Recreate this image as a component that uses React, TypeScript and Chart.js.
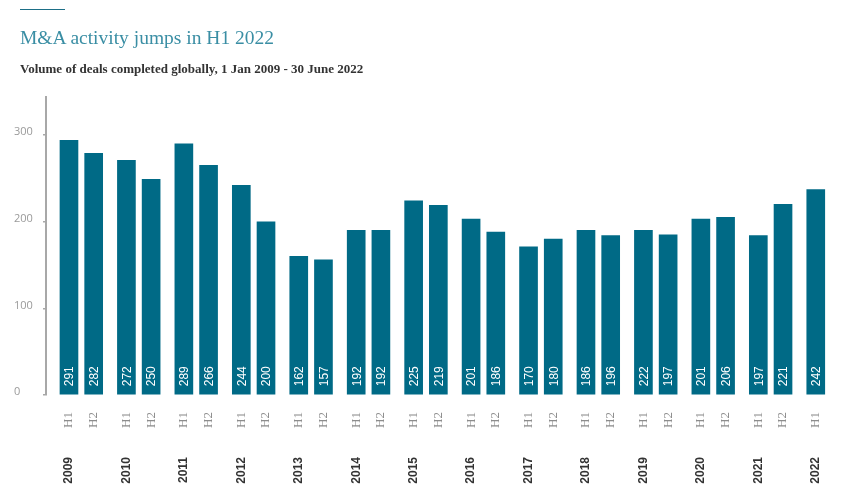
import { useEffect, useRef } from 'react';
import { Chart, registerables } from 'chart.js';

Chart.register(...registerables);

// ---- data ----
const years = ['2009', '2010', '2011', '2012', '2013', '2014', '2015', '2016', '2017', '2018', '2019', '2020', '2021', '2022'];
const periodYears = [
  '2009', '2009', '2010', '2010', '2011', '2011', '2012', '2012', '2013', '2013',
  '2014', '2014', '2015', '2015', '2016', '2016', '2017', '2017', '2018', '2018',
  '2019', '2019', '2020', '2020', '2021', '2021', '2022',
];
const periodHalves = [
  'H1', 'H2', 'H1', 'H2', 'H1', 'H2', 'H1', 'H2', 'H1', 'H2',
  'H1', 'H2', 'H1', 'H2', 'H1', 'H2', 'H1', 'H2', 'H1', 'H2',
  'H1', 'H2', 'H1', 'H2', 'H1', 'H2', 'H1',
];
// bar heights as drawn
const dealVolumes = [
  294, 279, 271, 249, 290, 265, 242, 200, 160, 156,
  190, 190, 224, 219, 203, 188, 171, 180, 190, 184,
  190, 185, 203, 205, 184, 220, 237,
];
// numbers printed inside the bars
const dealLabels = [
  '291', '282', '272', '250', '289', '266', '244', '200', '162', '157',
  '192', '192', '225', '219', '201', '186', '170', '180', '186', '196',
  '222', '197', '201', '206', '197', '221', '242',
];
const yTicks = [0, 100, 200, 300];
const Y_MAX = 344;
const H2_OFFSET = 0.43;
const X_MIN = -0.4;
const X_MAX = 13.3;

const BAR_COLOR = '#006a86';

const barX = periodYears.map((y, i) => years.indexOf(y) + (periodHalves[i] === 'H2' ? H2_OFFSET : 0));

const valueLabelPlugin = {
  id: 'valueLabels',
  afterDatasetsDraw(chart: any) {
    const ctx = chart.ctx;
    const meta = chart.getDatasetMeta(0);
    ctx.save();
    ctx.fillStyle = '#ffffff';
    ctx.font = '12px "Liberation Sans", Arial, sans-serif';
    meta.data.forEach((bar: any, i: number) => {
      const { x, base } = bar.getProps(['x', 'base'], true);
      ctx.save();
      ctx.translate(x, base - 8);
      ctx.rotate(-Math.PI / 2);
      ctx.textAlign = 'left';
      ctx.textBaseline = 'middle';
      ctx.fillText(dealLabels[i], 0, 1);
      ctx.restore();
    });
    ctx.restore();
  },
};

export default function App() {
  const canvasRef = useRef<HTMLCanvasElement | null>(null);

  useEffect(() => {
    if (!canvasRef.current) return;
    const chart = new Chart(canvasRef.current, {
      type: 'bar',
      data: {
        datasets: [
          {
            label: 'Deals',
            data: dealVolumes.map((v, i) => ({ x: barX[i], y: v })),
            backgroundColor: BAR_COLOR,
            barThickness: 18,
            borderWidth: 0,
          },
        ],
      },
      options: {
        animation: false,
        responsive: false,
        layout: { padding: { top: 89, left: 6, right: 0, bottom: 0 } },
        plugins: {
          legend: { display: false },
          tooltip: { enabled: false },
        },
        scales: {
          x: {
            type: 'linear',
            position: 'bottom',
            weight: 0,
            offset: false,
            min: X_MIN,
            max: X_MAX,
            grid: { display: false, drawTicks: false, offset: false },
            border: { display: false },
            afterBuildTicks: (scale: any) => {
              scale.ticks = barX.map((v) => ({ value: v }));
            },
            afterFit: (scale: any) => {
              scale.height = 45;
              scale.paddingLeft = 0;
              scale.paddingRight = 0;
            },
            ticks: {
              autoSkip: false,
              minRotation: 90,
              maxRotation: 90,
              padding: 17,
              color: '#8c8c8c',
              font: { family: '"Liberation Serif", serif', size: 13 },
              callback: (_v: any, index: number) => periodHalves[index],
            },
          },
          x2: {
            type: 'linear',
            position: 'bottom',
            weight: 1,
            offset: false,
            min: X_MIN,
            max: X_MAX,
            grid: { display: false, drawTicks: false, offset: false },
            border: { display: false },
            afterBuildTicks: (scale: any) => {
              scale.ticks = years.map((_, i) => ({ value: i }));
            },
            afterFit: (scale: any) => {
              scale.height = 50;
              scale.paddingLeft = 0;
              scale.paddingRight = 0;
            },
            ticks: {
              autoSkip: false,
              minRotation: 90,
              maxRotation: 90,
              padding: 17,
              color: '#333333',
              font: { family: '"Liberation Sans", Arial, sans-serif', size: 12, weight: 'bold' },
              callback: (_v: any, index: number) => years[index],
            },
          },
          y: {
            type: 'linear',
            min: 0,
            max: Y_MAX,
            grid: { drawOnChartArea: false, drawTicks: true, tickLength: 3, color: '#a8a8a8', lineWidth: 1.5 },
            border: { display: true, color: '#a8a8a8', width: 2 },
            afterBuildTicks: (scale: any) => {
              scale.ticks = yTicks.map((v) => ({ value: v }));
            },
            afterFit: (scale: any) => {
              scale.width = 32;
            },
            ticks: {
              crossAlign: 'far',
              labelOffset: -3,
              color: '#9a9a9a',
              font: { family: '"Open Sans", sans-serif', size: 11 },
            },
          },
        },
      } as any,
      plugins: [valueLabelPlugin],
    });
    return () => chart.destroy();
  }, []);

  return (
    <div style={{ position: 'relative', width: 825, height: 482 }}>
      <canvas ref={canvasRef} width={825} height={482} style={{ position: 'absolute', left: 0, top: 0 }} />
      <div
        style={{ position: 'absolute', left: 12, top: 0.5, width: 45, height: 1.5, background: '#1d6f87' }}
      />
      <div
        style={{
          position: 'absolute',
          left: 12,
          top: 20.4,
          fontFamily: '"Liberation Serif", serif',
          fontSize: 19.5,
          lineHeight: '20px',
          color: '#3a8ea4',
          whiteSpace: 'nowrap',
        }}
      >
        M&amp;A activity jumps in H1 2022
      </div>
      <div
        style={{
          position: 'absolute',
          left: 12,
          top: 54,
          fontFamily: '"Liberation Serif", serif',
          fontWeight: 'bold',
          fontSize: 13,
          lineHeight: '14px',
          color: '#333333',
          whiteSpace: 'nowrap',
        }}
      >
        Volume of deals completed globally, 1 Jan 2009 - 30 June 2022
      </div>
    </div>
  );
}
